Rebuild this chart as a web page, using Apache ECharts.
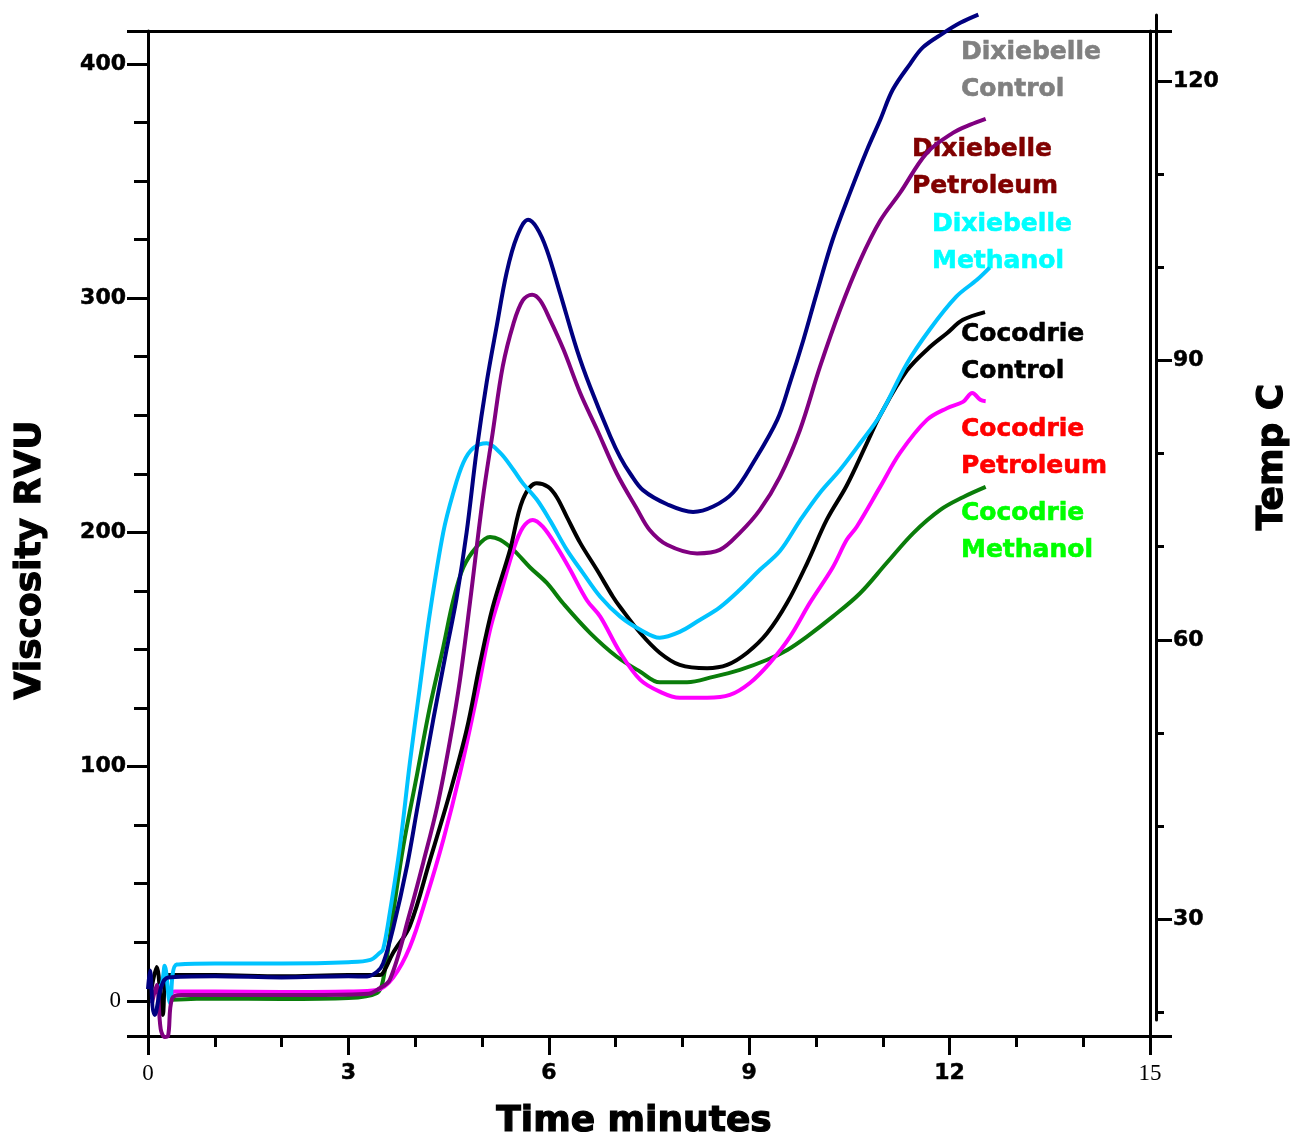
<!DOCTYPE html>
<html>
<head>
<meta charset="utf-8">
<title>RVA pasting curves</title>
<script src="https://cdn.jsdelivr.net/npm/echarts@6/dist/echarts.min.js"></script>
<style>
  html, body { margin: 0; padding: 0; background: #fff; }
  #chart { width: 1301px; height: 1144px; }
</style>
</head>
<body>
<div id="chart"></div>
<script>
// Viscosity (RVU) against time (minutes) for each rice / treatment pair
const dixieControl = [
  [0, 5], [0.03, 13], [0.1, -6], [0.3, 10], [1, 10.5], [2, 10], [3, 10.5], [3.28, 10.4],
  [3.43, 12.4], [3.52, 16], [3.67, 31], [3.88, 58], [4.03, 82], [4.27, 120], [4.47, 150],
  [4.62, 172], [4.77, 200], [4.92, 235], [5.07, 264], [5.22, 288], [5.37, 311], [5.52, 326],
  [5.69, 333.4], [5.82, 330], [5.97, 320.6], [6.17, 302], [6.42, 278], [6.62, 262], [6.92, 241],
  [7.07, 232], [7.22, 225], [7.41, 218], [7.77, 212], [8.16, 208.7], [8.46, 211], [8.76, 217],
  [9.06, 229.7], [9.42, 248], [9.61, 263.8], [9.81, 282], [10.01, 302], [10.25, 325],
  [10.51, 345], [10.76, 363], [10.96, 376], [11.15, 389], [11.41, 400], [11.6, 407],
  [11.9, 413], [12.16, 417.5], [12.43, 421]
];
const dixiePetroleum = [
  [0.06, -1], [0.13, 6.8], [0.19, -12], [0.25, -15.4], [0.3, -15], [0.36, 1], [0.5, 2.5],
  [1.5, 2.5], [2.5, 2.5], [3.3, 3], [3.43, 4.7], [3.62, 9], [3.92, 37.6], [4.12, 59],
  [4.33, 83], [4.52, 111], [4.67, 137], [4.82, 170], [5.01, 214], [5.16, 242.5], [5.31, 270.7],
  [5.47, 289], [5.61, 299], [5.75, 301.4], [5.87, 299], [6.02, 290.7], [6.22, 278],
  [6.47, 259.5], [6.72, 244], [7.02, 225], [7.32, 210], [7.51, 201], [7.77, 194.7],
  [8.22, 191], [8.56, 192.5], [8.86, 199.8], [9.16, 209.6], [9.46, 223.7], [9.76, 243.7],
  [10.06, 270.7], [10.36, 295], [10.66, 316], [10.96, 333], [11.26, 345], [11.66, 362],
  [12.05, 370.5], [12.31, 374], [12.54, 376.5]
];
const dixieMethanol = [
  [0.1, 5], [0.2, 7], [0.25, 15], [0.33, -1], [0.43, 15.5], [1, 16], [2, 16], [3, 16.5],
  [3.33, 17.5], [3.47, 20.5], [3.52, 22], [3.62, 37.6], [3.77, 65.7], [3.92, 101.6],
  [4.07, 134], [4.22, 165.6], [4.42, 200], [4.57, 216.9], [4.72, 229.7], [4.87, 236],
  [5.07, 238], [5.27, 234], [5.47, 226.7], [5.61, 221], [5.82, 214], [6.02, 205],
  [6.27, 192.5], [6.51, 182.7], [6.77, 172.5], [7.07, 164], [7.37, 158.4], [7.66, 155],
  [7.96, 157.5], [8.26, 162.6], [8.56, 168], [8.86, 175.5], [9.16, 184], [9.46, 192],
  [9.76, 205], [10.06, 216.9], [10.36, 226.7], [10.66, 238], [10.96, 250], [11.36, 272],
  [11.7, 286.5], [12.1, 300.6], [12.41, 307.8], [12.6, 313]
];
const cocoControl = [
  [0.05, 5], [0.13, 14.5], [0.22, -6], [0.3, 11], [1, 11], [2, 10.5], [3, 11], [3.47, 11],
  [3.52, 12], [3.67, 20.5], [3.92, 32], [4.22, 60], [4.52, 88.8], [4.77, 115.7], [4.97, 144],
  [5.16, 168], [5.42, 192.5], [5.61, 213.9], [5.82, 221], [5.99, 219.4], [6.12, 215],
  [6.27, 206.6], [6.47, 195.5], [6.72, 184], [6.96, 172.5], [7.07, 168], [7.37, 157],
  [7.66, 148.6], [7.96, 143.4], [8.37, 142], [8.67, 143.4], [8.97, 148.6], [9.27, 157],
  [9.57, 170], [9.87, 187], [10.16, 205.3], [10.46, 220], [10.76, 238], [10.96, 250],
  [11.36, 269], [11.7, 279], [11.96, 285], [12.2, 290.7], [12.53, 294]
];
const cocoPetroleum = [
  [0.33, 2], [0.4, 4], [1, 4], [2, 3.8], [3, 4], [3.43, 4.7], [3.67, 10], [3.92, 23],
  [4.17, 44.4], [4.42, 68.7], [4.67, 97], [4.92, 129.8], [5.12, 158.4], [5.3, 176],
  [5.47, 192.5], [5.61, 202], [5.76, 205.3], [5.91, 202.4], [6.12, 193.8], [6.32, 184],
  [6.57, 171], [6.77, 164], [7.07, 148.6], [7.37, 137], [7.66, 132], [7.96, 129.4],
  [8.37, 129.4], [8.71, 130.6], [9.01, 135.7], [9.31, 144.3], [9.61, 155.4], [9.91, 170],
  [10.25, 185], [10.46, 196.8], [10.61, 202.4], [10.96, 219.4], [11.26, 234], [11.66, 248],
  [11.96, 253], [12.2, 255.7], [12.34, 259.5], [12.46, 256.6], [12.54, 256]
];
const cocoMethanol = [
  [0.36, 0.5], [1, 1], [2, 0.8], [3, 1.2], [3.43, 3.4], [3.52, 9], [3.67, 37.6], [3.82, 65.7],
  [4.03, 97], [4.22, 125.5], [4.42, 151], [4.57, 171], [4.72, 185], [4.92, 193.8], [5.12, 198],
  [5.27, 196.8], [5.47, 192.5], [5.72, 185], [5.97, 178.4], [6.22, 169.5], [6.62, 157],
  [7.02, 146.9], [7.37, 140.5], [7.66, 136], [8.07, 136], [8.46, 138.3], [8.86, 141.3],
  [9.27, 145.6], [9.57, 149.8], [9.86, 155.4], [10.25, 164], [10.66, 174], [11.06, 187],
  [11.46, 199.8], [11.86, 209.6], [12.2, 215], [12.54, 219.4]
];

// Axis ticks
const viscMajorTicks = [0, 100, 200, 300, 400];
const viscMinorTicks = [25, 50, 75, 125, 150, 175, 225, 250, 275, 325, 350, 375];
const tempMajorTicks = [30, 60, 90, 120];
const tempMinorTicks = [20, 40, 50, 70, 80, 100, 110];

// Curve colours and the text labels beside them
const seriesDefs = [
  { name: 'Cocodrie Methanol', data: cocoMethanol, color: '#0a7d0a' },
  { name: 'Cocodrie Petroleum', data: cocoPetroleum, color: '#ff00ff' },
  { name: 'Cocodrie Control', data: cocoControl, color: '#000000' },
  { name: 'Dixiebelle Methanol', data: dixieMethanol, color: '#00c3ff' },
  { name: 'Dixiebelle Petroleum', data: dixiePetroleum, color: '#800080' },
  { name: 'Dixiebelle Control', data: dixieControl, color: '#000080' }
];
const curveLabels = [
  { lines: ['Dixiebelle', 'Control'], color: '#808080' },
  { lines: ['Dixiebelle', 'Petroleum'], color: '#800000' },
  { lines: ['Dixiebelle', 'Methanol'], color: '#00ffff' },
  { lines: ['Cocodrie', 'Control'], color: '#000000' },
  { lines: ['Cocodrie', 'Petroleum'], color: '#ff0000' },
  { lines: ['Cocodrie', 'Methanol'], color: '#00ff00' }
];
// left edge / first-line centre of each label block
const labelAnchors = [[961, 52], [912, 149], [932, 224], [961, 334], [961, 429], [961, 513]];
const labelLineGap = 37.5;

const HEAVY = 'DejaVu Sans';
const SERIF = 'Liberation Serif';
const axisBlack = { color: '#000', width: 3 };

const richNums = {
  s: { fontFamily: SERIF, fontSize: 23, fontWeight: 'normal', color: '#000' },
  b: { fontFamily: HEAVY, fontSize: 22, fontWeight: 'bold', color: '#000', textBorderColor: '#000', textBorderWidth: 0.5 }
};

const graphic = [];
curveLabels.forEach((lab, i) => {
  lab.lines.forEach((txt, j) => {
    graphic.push({
      type: 'text',
      x: labelAnchors[i][0],
      y: labelAnchors[i][1] + j * labelLineGap,
      style: {
        text: txt, fill: lab.color, stroke: lab.color, lineWidth: 0.6,
        fontFamily: HEAVY, fontWeight: 'bold', fontSize: 25,
        align: 'left', verticalAlign: 'middle'
      }
    });
  });
});
const titleStyle = { fill: '#000', stroke: '#000', lineWidth: 1.2, fontFamily: HEAVY, fontWeight: 'bold', fontSize: 36, align: 'center', verticalAlign: 'middle' };
graphic.push({ type: 'text', x: 634, y: 1122, style: Object.assign({ text: 'Time minutes' }, titleStyle) });
graphic.push({ type: 'text', x: 31, y: 560, rotation: Math.PI / 2, style: Object.assign({ text: 'Viscosity RVU' }, titleStyle) });
graphic.push({ type: 'text', x: 1273, y: 457, rotation: Math.PI / 2, style: Object.assign({ text: 'Temp C' }, titleStyle) });

const hiddenAxisParts = { axisLabel: { show: false }, splitLine: { show: false } };

const chart = echarts.init(document.getElementById('chart'), null, { renderer: 'canvas' });
chart.setOption({
  backgroundColor: '#fff',
  animation: false,
  grid: [
    { left: 148, right: 151, top: 31, bottom: 108 },
    { left: 148, right: 145, top: 15, bottom: 124 }
  ],
  xAxis: [
    {
      gridIndex: 0, type: 'value', position: 'bottom', min: 0, max: 15, interval: 3,
      axisLine: { onZero: false, lineStyle: axisBlack },
      axisTick: { length: 19, lineStyle: axisBlack },
      minorTick: { show: true, splitNumber: 3, length: 11, lineStyle: axisBlack },
      splitLine: { show: false }, minorSplitLine: { show: false },
      axisLabel: {
        margin: 26,
        formatter: v => (v === 0 || v === 15) ? '{s|' + v + '}' : '{b|' + v + '}',
        rich: richNums
      }
    },
    Object.assign({
      gridIndex: 0, type: 'value', position: 'top', min: 0, max: 15,
      axisLine: { onZero: false, lineStyle: axisBlack },
      axisTick: { show: false }
    }, hiddenAxisParts),
    { gridIndex: 1, type: 'value', min: 0, max: 15, show: false }
  ],
  yAxis: [
    {
      gridIndex: 0, type: 'value', position: 'left', min: -15, max: 414,
      axisLine: { show: true, onZero: false, lineStyle: axisBlack },
      axisTick: { show: true, length: 21, lineStyle: axisBlack, customValues: [-15].concat(viscMajorTicks, [414]) },
      axisLabel: {
        margin: 22, customValues: viscMajorTicks,
        formatter: v => v === 0 ? '{s|0}' : '{b|' + v + '}',
        rich: Object.assign({}, richNums, { s: Object.assign({}, richNums.s, { padding: [0, 5, 0, 0] }) })
      },
      splitLine: { show: false }
    },
    Object.assign({
      gridIndex: 0, type: 'value', position: 'left', min: -15, max: 414,
      axisLine: { show: false, onZero: false },
      axisTick: { show: true, length: 14, lineStyle: axisBlack, customValues: viscMinorTicks }
    }, hiddenAxisParts),
    Object.assign({
      gridIndex: 0, type: 'value', position: 'right', min: -15, max: 414,
      axisLine: { show: true, onZero: false, lineStyle: axisBlack },
      axisTick: { show: true, length: 22, lineStyle: axisBlack, customValues: [-15, 414] }
    }, hiddenAxisParts),
    {
      gridIndex: 1, type: 'value', position: 'right', min: 19.18, max: 127.09,
      axisLine: { show: true, onZero: false, lineStyle: axisBlack },
      axisTick: { show: true, length: 16, lineStyle: axisBlack, customValues: tempMajorTicks },
      axisLabel: {
        margin: 17, customValues: tempMajorTicks,
        formatter: v => '{b|' + v + '}', rich: richNums
      },
      splitLine: { show: false }
    },
    Object.assign({
      gridIndex: 1, type: 'value', position: 'right', min: 19.18, max: 127.09,
      axisLine: { show: false, onZero: false },
      axisTick: { show: true, length: 8, lineStyle: axisBlack, customValues: tempMinorTicks }
    }, hiddenAxisParts)
  ],
  series: seriesDefs.map(s => ({
    name: s.name,
    type: 'line',
    xAxisIndex: 0,
    yAxisIndex: 0,
    data: s.data,
    showSymbol: false,
    smooth: 0.35,
    clip: false,
    lineStyle: { color: s.color, width: 4 },
    itemStyle: { color: s.color }
  })),
  graphic: graphic
});
</script>
</body>
</html>
